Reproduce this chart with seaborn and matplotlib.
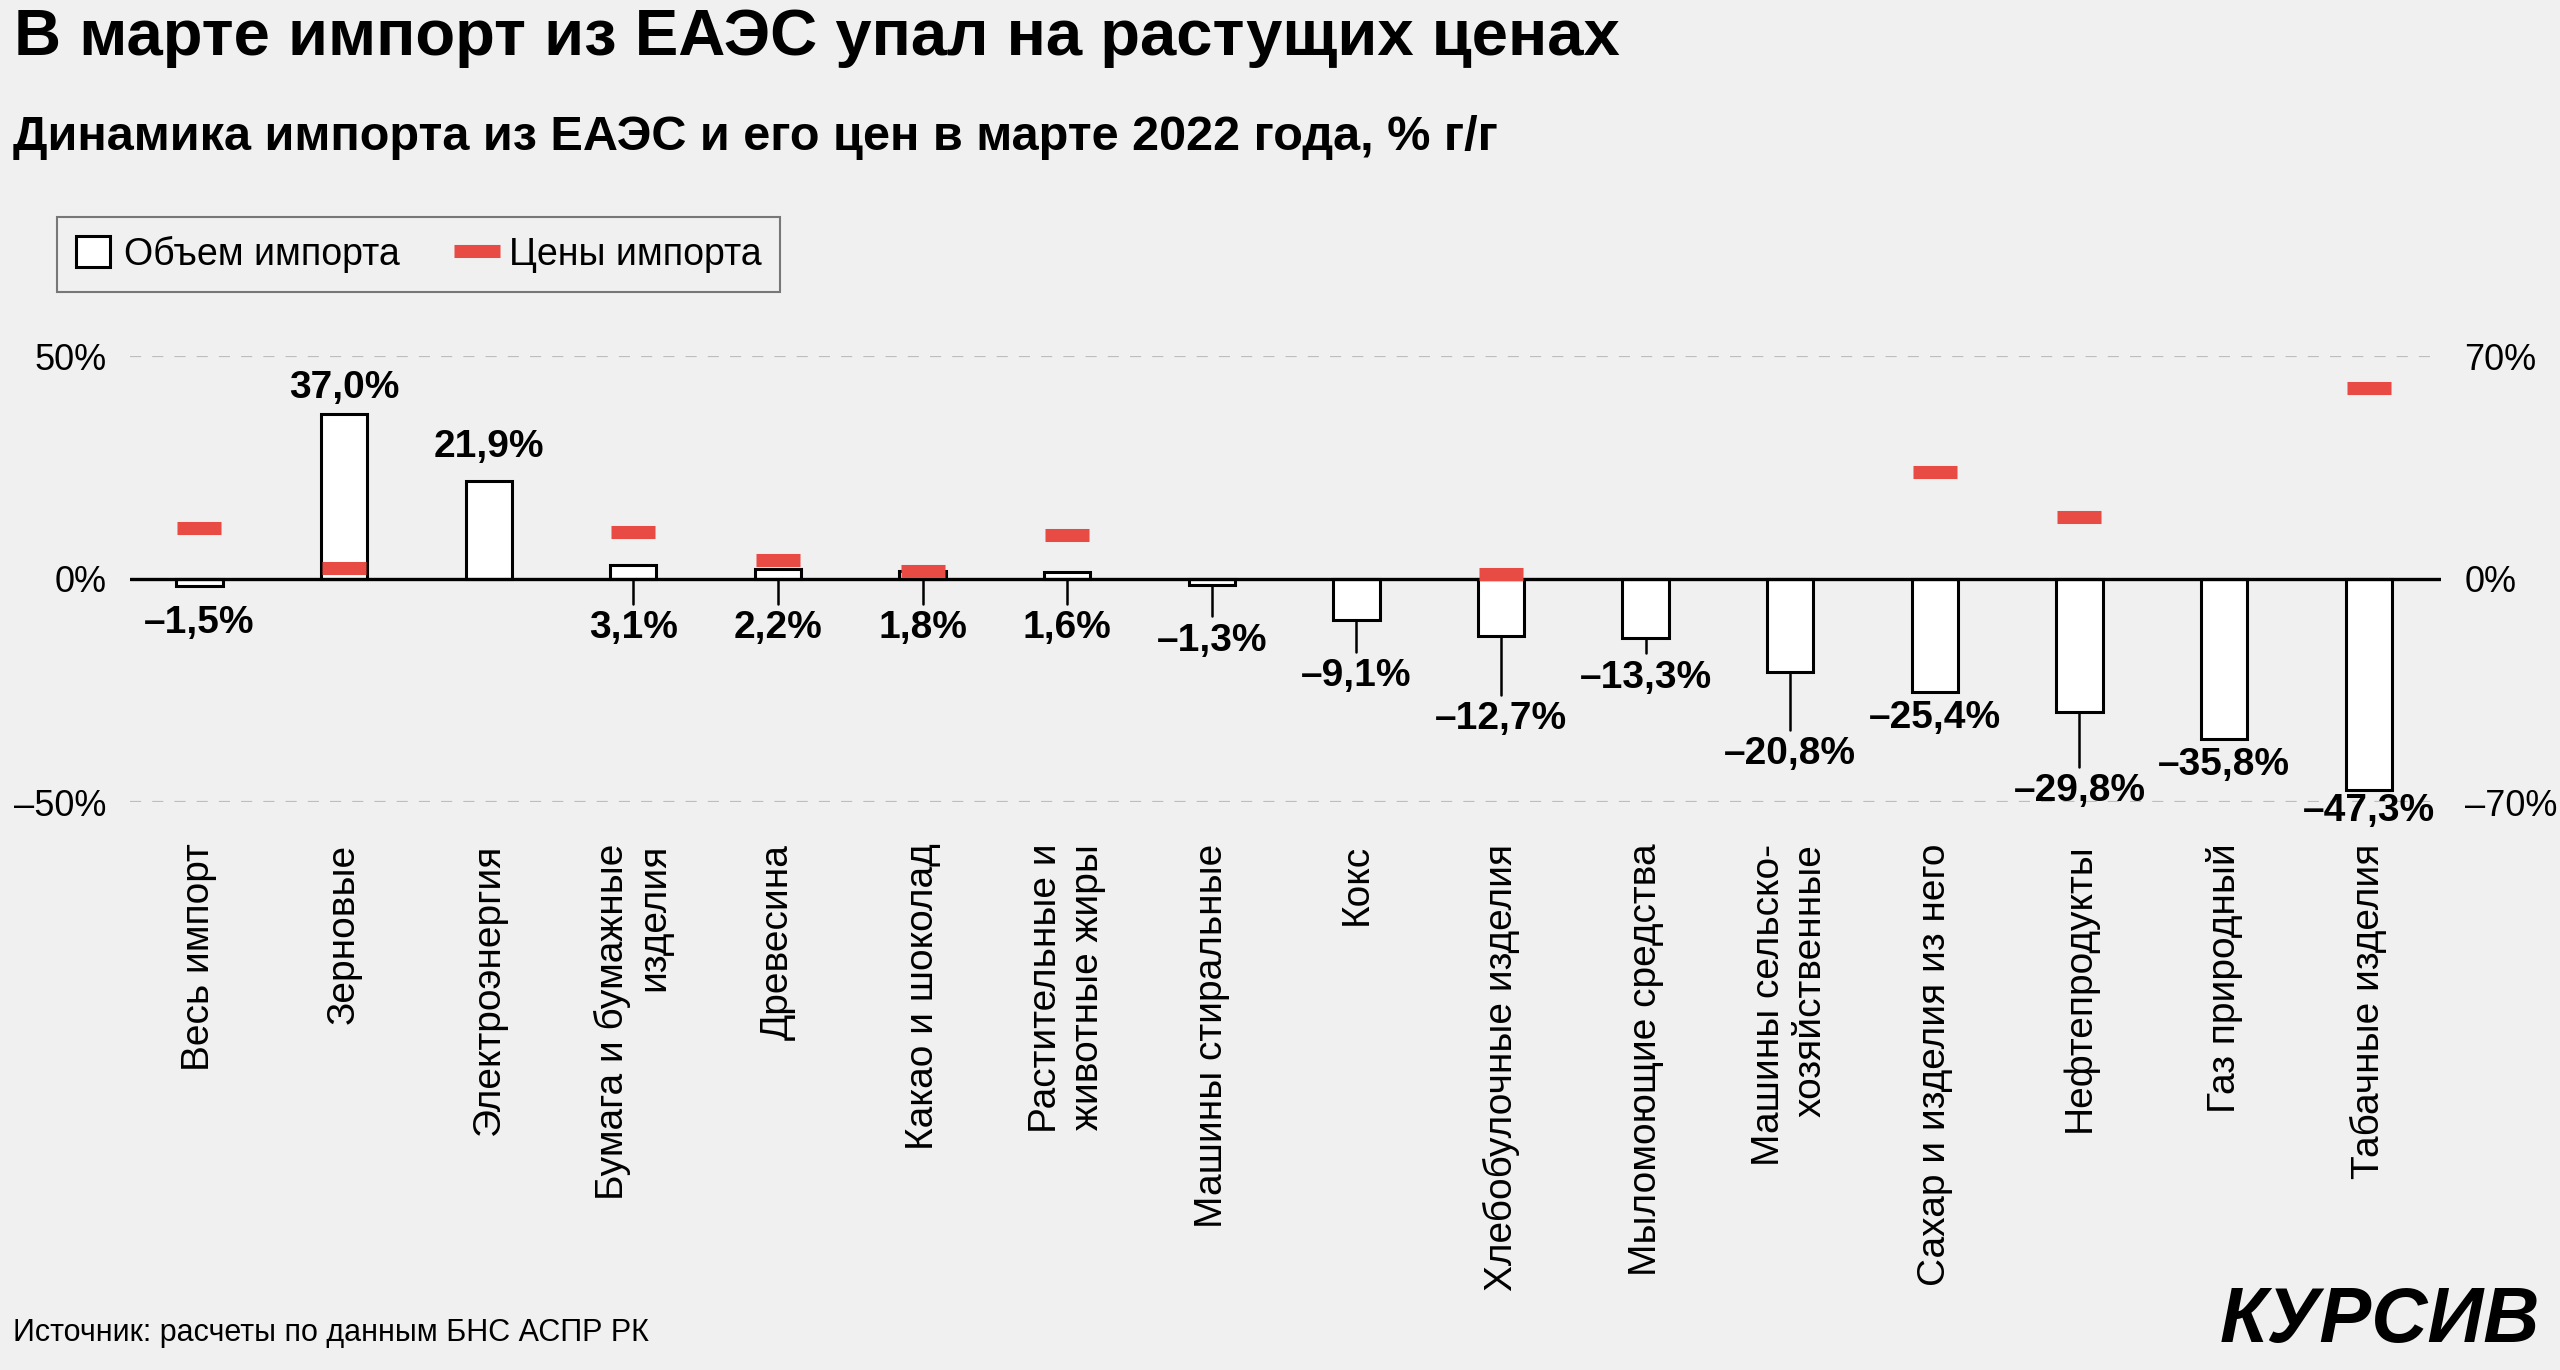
import matplotlib

matplotlib.use('Agg')
import matplotlib.pyplot as plt
import numpy as np
import pandas as pd
import seaborn as sns
from matplotlib.lines import Line2D
from matplotlib.patches import Patch

categories = [
    'Весь импорт', 'Зерновые', 'Электроэнергия', 'Бумага и бумажные\nизделия',
    'Древесина', 'Какао и шоколад', 'Растительные и\nживотные жиры', 'Машины стиральные',
    'Кокс', 'Хлебобулочные изделия', 'Мыломоющие средства', 'Машины сельско-\nхозяйственные',
    'Сахар и изделия из него', 'Нефтепродукты', 'Газ природный', 'Табачные изделия',
]
volume = [-1.5, 37.0, 21.9, 3.1, 2.2, 1.8, 1.6, -1.3, -9.1, -12.7, -13.3, -20.8, -25.4, -29.8, -35.8, -47.3]
prices = [16.0, 3.6, np.nan, 14.9, 6.0, 2.5, 13.9, np.nan, np.nan, 1.5, np.nan, np.nan, 33.7, 19.6, np.nan, 60.1]

# label placement (data units of left axis) and whether a leader line is drawn
label_y = [-9.9, 42.9, 29.7, -11.0, -11.0, -11.0, -11.0, -13.9, -21.8, -31.5, -22.2, -39.3, -31.2, -47.6, -41.6, -52.1]
has_leader = [False, False, False, True, True, True, True, True, True, True, True, True, False, True, False, False]

BG = '#f0f0f0'
RED = '#e84a44'

sns.set_style('white')
plt.rcParams['font.family'] = ['Liberation Sans', 'DejaVu Sans']
plt.rcParams['axes.unicode_minus'] = False
plt.rcParams['text.color'] = 'black'
plt.rcParams['xtick.color'] = 'black'
plt.rcParams['ytick.color'] = 'black'


def pct(v):
    s = f'{abs(v):.1f}'.replace('.', ',') + '%'
    return ('–' if v < 0 else '') + s


df = pd.DataFrame({'category': categories, 'volume': volume})

fig = plt.figure(figsize=(25.6, 13.7), dpi=100, facecolor=BG)
ax = fig.add_axes([130 / 2560, 1 - 802 / 1370, (2441 - 130) / 2560, (802 - 356) / 1370])
ax.set_facecolor(BG)

sns.barplot(data=df, x='category', y='volume', color='white', saturation=1,
            edgecolor='black', linewidth=2.2, width=0.32, ax=ax, zorder=3)
ax.set_xlim(-0.48, 15.5)
ax.set_ylim(-50, 50)
ax.axhline(0, color='black', lw=2.4, zorder=4)
for yv in (-50, 50):
    ax.axhline(yv, color='#bdbdbd', lw=1.6, ls=(0, (5, 5)), zorder=1)

for i, v in enumerate(volume):
    if has_leader[i]:
        ax.plot([i, i], [min(v, 0), label_y[i] + 5.5], color='black', lw=1.8, zorder=2)
    ax.text(i, label_y[i], pct(v), ha='center', va='center', fontsize=28,
            fontweight='bold', clip_on=False, zorder=5)

for s in ax.spines.values():
    s.set_visible(False)
ax.set_yticks([-50, 0, 50], ['–50%', '0%', '50%'])
ax.tick_params(axis='y', length=0, pad=17, labelsize=26)
ax.tick_params(axis='x', length=0, pad=30)
ax.set_xticks(range(len(categories)))
ax.set_xticklabels(categories, rotation=90, ha='center', va='top',
                   multialignment='right', fontsize=28)
ax.set_xlabel('')
ax.set_ylabel('')

ax2 = ax.twinx()
sns.scatterplot(x=np.arange(len(prices)), y=prices, marker='_', s=31 ** 2,
                linewidth=9.4, color=RED, ax=ax2, zorder=6)
ax2.set_ylim(-70, 70)
ax2.set_yticks([-70, 0, 70], ['–70%', '0%', '70%'])
ax2.tick_params(axis='y', length=0, pad=17, labelsize=26)
for s in ax2.spines.values():
    s.set_visible(False)

handles = [
    Patch(facecolor='white', edgecolor='black', linewidth=2.2),
    Line2D([], [], color=RED, lw=0, marker='_', markersize=33, markeredgewidth=9.4),
]
leg = fig.legend(handles, ['Объем импорта', 'Цены импорта'], ncol=2,
                 loc='upper left', bbox_to_anchor=(57 / 2560, 1 - 217 / 1370),
                 borderaxespad=0, fontsize=27, frameon=True, fancybox=False,
                 edgecolor='#777777', facecolor=BG, framealpha=1,
                 handlelength=0.9, handleheight=0.9, handletextpad=0.4,
                 columnspacing=1.6, borderpad=0.5)
leg.get_frame().set_linewidth(1.5)

fig.text(14 / 2560, 1 - 55 / 1370, 'В марте импорт из ЕАЭС упал на растущих ценах',
         fontsize=47, fontweight='bold', ha='left', va='baseline')
fig.text(13 / 2560, 1 - 150 / 1370, 'Динамика импорта из ЕАЭС и его цен в марте 2022 года, % г/г',
         fontsize=35, fontweight='bold', ha='left', va='baseline')
fig.text(13 / 2560, 1 - 1333 / 1370, 'Источник: расчеты по данным БНС АСПР РК',
         fontsize=22, ha='left', va='center')
fig.text(2540 / 2560, 1 - 1342 / 1370, 'КУРСИВ', fontsize=56, fontweight='bold',
         fontstyle='italic', ha='right', va='baseline')

fig.savefig('out.png', dpi=100, facecolor=BG)
